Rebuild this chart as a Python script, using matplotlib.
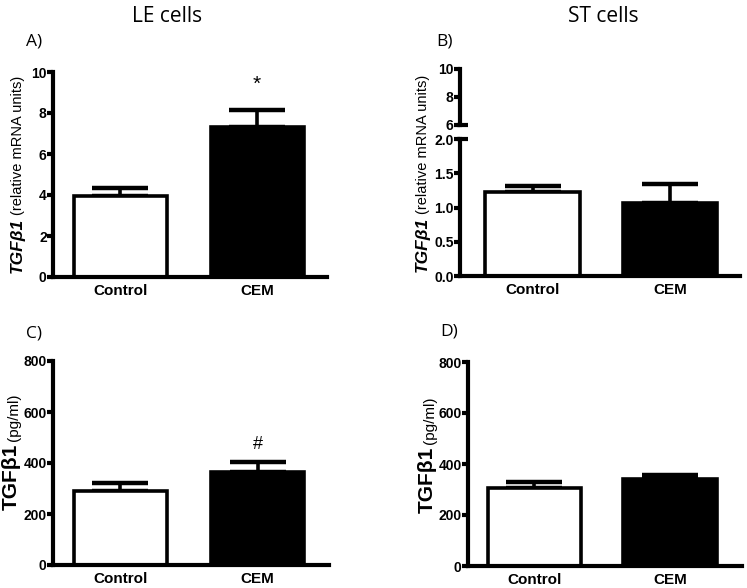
import matplotlib
matplotlib.use("Agg")
import matplotlib.pyplot as plt
import numpy as np

# data
groups = ["Control", "CEM"]
le_mrna = [3.95, 7.3]
le_mrna_err = [0.38, 0.85]
st_mrna = [1.22, 1.07]
st_mrna_err = [0.09, 0.27]
le_prot = [291, 366]
le_prot_err = [30, 37]
st_prot = [304, 340]
st_prot_err = [24, 16]

W, H = 747, 588
fig = plt.figure(figsize=(W / 100, H / 100), dpi=100)

LW = 3.0
TICKFONT = "Liberation Sans"
TITLEFONT = "Open Sans"


def px_axes(l, r, top, bot):
    return fig.add_axes([l / W, 1 - bot / H, (r - l) / W, (bot - top) / H])


def style(ax, bottom=True):
    for s in ["top", "right"]:
        ax.spines[s].set_visible(False)
    ax.spines["left"].set_linewidth(LW)
    ax.spines["bottom"].set_linewidth(LW)
    ax.spines["bottom"].set_visible(bottom)
    ax.tick_params(axis="y", direction="out", length=4.5, width=LW, pad=0,
                   labelsize=10)
    ax.tick_params(axis="x", length=0, pad=5, labelsize=11)
    for lab in ax.get_yticklabels() + ax.get_xticklabels():
        lab.set_fontfamily(TICKFONT)
        lab.set_fontweight("bold")


def bars(ax, vals, errs, xlim, width):
    x = np.arange(len(vals))
    ax.bar(x, vals, width=width, color=["white", "black"], edgecolor="black",
           linewidth=2.6, zorder=2)
    ax.errorbar(x, vals, yerr=[np.zeros(len(errs)), errs], fmt="none",
                ecolor="black", elinewidth=2.6, capsize=20, capthick=3.2,
                zorder=1)
    ax.set_xlim(*xlim)
    ax.set_xticks(x)
    ax.set_xticklabels(groups)


# panel A
axA = px_axes(53, 327, 72, 277)
bars(axA, le_mrna, le_mrna_err, (-0.49, 1.51), 0.68)
axA.set_ylim(0, 10)
axA.set_yticks([0, 2, 4, 6, 8, 10])
style(axA)
axA.text(1, 9.4, "*", ha="center", va="center", fontsize=15,
         fontfamily=TICKFONT)

# panel B (broken axis)
axB = px_axes(460, 740, 139, 276)
bars(axB, st_mrna, st_mrna_err, (-0.53, 1.51), 0.69)
axB.set_ylim(0, 2.0)
axB.set_yticks([0, 0.5, 1.0, 1.5, 2.0])
axB.set_yticklabels(["0.0", "0.5", "1.0", "1.5", "2.0"])
style(axB)

axB2 = px_axes(460, 740, 69, 125)
axB2.set_xlim(-0.53, 1.51)
axB2.set_ylim(6, 10)
axB2.set_yticks([6, 8, 10])
axB2.set_xticks([])
style(axB2, bottom=False)
# break marks
for a, yv in [(axB2, 6), (axB, 2.0)]:
    a.plot([-0.01, 0.03], [yv, yv], transform=a.get_yaxis_transform(),
           color="black", lw=LW, clip_on=False, solid_capstyle="butt")

# panel C
axC = px_axes(53, 329, 361, 565)
bars(axC, le_prot, le_prot_err, (-0.49, 1.52), 0.68)
axC.set_ylim(0, 800)
axC.set_yticks([0, 200, 400, 600, 800])
style(axC)
axC.text(1, 474, "#", ha="center", va="center", fontsize=13,
         fontfamily=TICKFONT)

# panel D
axD = px_axes(468, 742, 362, 566)
bars(axD, st_prot, st_prot_err, (-0.49, 1.53), 0.69)
axD.set_ylim(0, 800)
axD.set_yticks([0, 200, 400, 600, 800])
style(axD)

# titles and panel letters
fig.text(167 / W, 1 - 16 / H, "LE cells", ha="center", va="center",
         fontsize=15, fontfamily=TITLEFONT)
fig.text(603 / W, 1 - 16 / H, "ST cells", ha="center", va="center",
         fontsize=15, fontfamily=TITLEFONT)
for lx, ly, t in [(26, 42, "A)"), (436, 42, "B)"), (26, 333, "C)"),
                  (440, 332, "D)")]:
    fig.text(lx / W, 1 - ly / H, t, ha="left", va="center", fontsize=12.5,
             fontfamily=TITLEFONT)

# two-part y labels
fig.canvas.draw()
renderer = fig.canvas.get_renderer()


def ylab(xr, yc, big, small, bigsize, smallsize, italic):
    t1 = fig.text(xr / W, 0, big, rotation=90, ha="right", va="bottom",
                  fontsize=bigsize, fontweight="bold",
                  fontstyle="italic" if italic else "normal",
                  fontfamily=TICKFONT)
    t2 = fig.text(xr / W, 0, small, rotation=90, ha="right", va="bottom",
                  fontsize=smallsize, fontfamily=TICKFONT)
    h1 = t1.get_window_extent(renderer).height
    h2 = t2.get_window_extent(renderer).height
    gap = 3
    y0 = (H - yc) - (h1 + gap + h2) / 2
    t1.set_y(y0 / H)
    t2.set_y((y0 + h1 + gap) / H)


ylab(25, 174, "TGF\u03b21", "(relative mRNA units)", 12.5, 10.5, True)
ylab(430, 173, "TGF\u03b21", "(relative mRNA units)", 12.5, 10.5, True)
ylab(21, 452, "TGF\u03b21", "(pg/ml)", 15, 11, False)
ylab(437, 455, "TGF\u03b21", "(pg/ml)", 15, 11, False)

fig.savefig("out.png", dpi=100)
